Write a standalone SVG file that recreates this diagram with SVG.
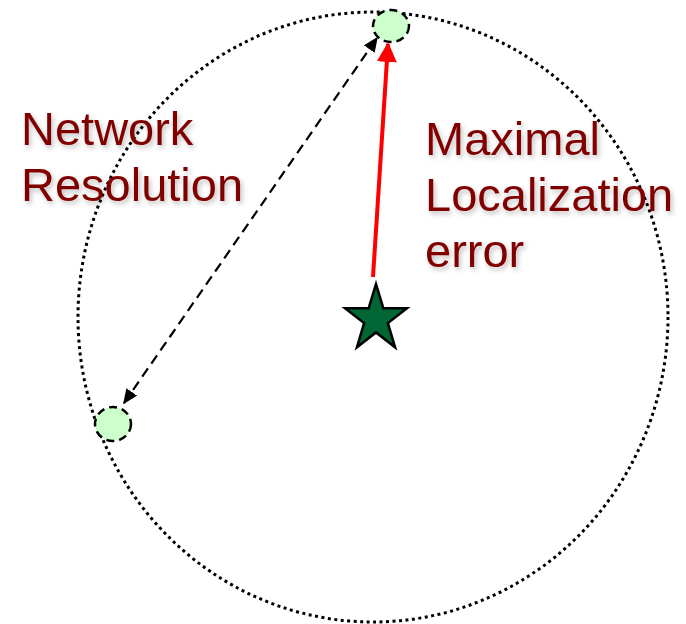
<svg xmlns="http://www.w3.org/2000/svg" width="686" height="624" viewBox="0 0 686 624">
<defs>
<style>
.lbl{font-family:"Liberation Sans",Arial,sans-serif;font-size:47px;fill:#800000;filter:url(#sh)}
.node{fill:#ccffcc;stroke:#000;stroke-width:2.5;stroke-dasharray:8 5}
</style>
<filter id="sh" x="-10%" y="-20%" width="130%" height="150%">
<feDropShadow dx="2" dy="3" stdDeviation="2.5" flood-color="#000" flood-opacity="0.25"/>
</filter>
<marker id="ab" viewBox="0 0 10 10" refX="9" refY="5" markerWidth="15" markerHeight="13" markerUnits="userSpaceOnUse" orient="auto-start-reverse" preserveAspectRatio="none">
<path d="M0,0 L10,5 L0,10 Z" fill="#000"/>
</marker>
<marker id="ar" viewBox="0 0 10 10" refX="9" refY="5" markerWidth="5" markerHeight="5" orient="auto">
<path d="M0,0 L10,5 L0,10 Z" fill="#ff0000"/>
</marker>
</defs>
<rect width="686" height="624" fill="#fff"/>
<g id="range">
<ellipse cx="373" cy="317" rx="295" ry="305" fill="none" stroke="#000" stroke-width="3" stroke-dasharray="3 3.5"/>
</g>
<g id="node-top"><ellipse class="node" cx="391" cy="26" rx="18" ry="16"/></g>
<g id="node-left"><ellipse class="node" cx="113" cy="424" rx="18" ry="17"/></g>
<g id="anchor">
<polygon points="376,284 383.3,308.2 407,308.2 387.9,323.1 395.1,347.3 376,332.4 356.9,347.3 364.1,323.1 345,308.2 368.7,308.2" fill="#006633" stroke="#000" stroke-width="2.5" stroke-linejoin="miter"/>
</g>
<g id="connectors">
<line x1="124" y1="403" x2="377" y2="38" stroke="#000" stroke-width="2.2" stroke-dasharray="10 6" marker-start="url(#ab)" marker-end="url(#ab)"/>
<line x1="373" y1="277" x2="388" y2="44" stroke="#ff0000" stroke-width="4" marker-end="url(#ar)"/>
</g>
<g id="label-resolution">
<text class="lbl" x="21" y="145">Network</text>
<text class="lbl" x="21" y="201">Resolution</text>
</g>
<g id="label-error">
<text class="lbl" x="425" y="155">Maximal</text>
<text class="lbl" x="425" y="211">Localization</text>
<text class="lbl" x="425" y="267">error</text>
</g>
</svg>
